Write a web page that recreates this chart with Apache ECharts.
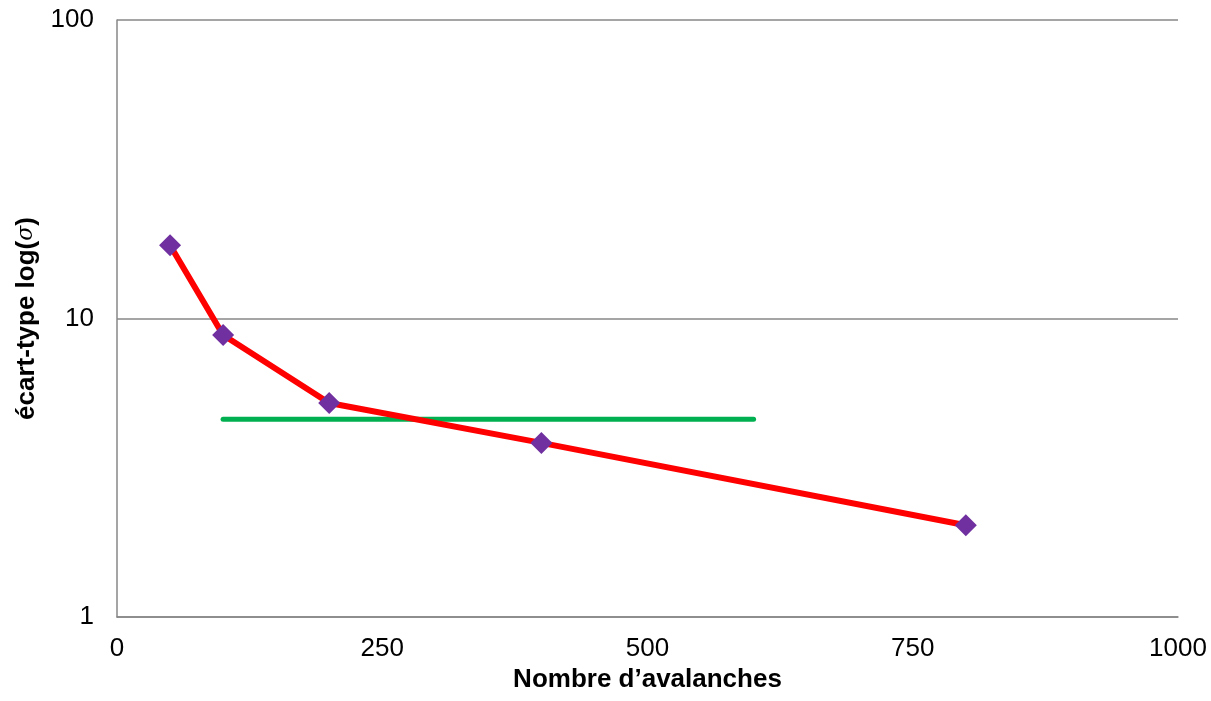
<!DOCTYPE html>
<html><head><meta charset="utf-8">
<script src="https://cdn.jsdelivr.net/npm/echarts@6/dist/echarts.min.js"></script>
<style>html,body{margin:0;padding:0;background:#fff}#c{width:1211px;height:701px}</style>
</head><body><div id="c"></div>
<script>
const avalanches = [50, 100, 200, 400, 800];
const sigma = [17.6, 8.8, 5.21, 3.83, 2.03];
const refX = [100, 600];
const refY = [4.6, 4.6];
const xTitle = "Nombre d’avalanches";
const yTitleMain = "écart-type log(";
const yTitleSym = "σ";
const yTitleEnd = ")";

const chart = echarts.init(document.getElementById('c'));
const gray = '#878787';
chart.setOption({
  animation: false,
  grid: {left: 117, right: 33, top: 20, bottom: 84, containLabel: false},
  xAxis: {
    type: 'value', min: 0, max: 1000, interval: 250,
    name: xTitle, nameLocation: 'middle', nameGap: 42,
    nameTextStyle: {fontFamily: 'Liberation Sans', fontSize: 26, fontWeight: 'bold', color: '#000'},
    axisLine: {show: true, lineStyle: {color: gray, width: 1.5}},
    axisTick: {show: false},
    splitLine: {show: false},
    axisLabel: {fontFamily: 'Liberation Sans', fontSize: 26, color: '#000', margin: 19,
      formatter: v => String(v)}
  },
  yAxis: {
    type: 'log', logBase: 10, min: 1, max: 100,
    name: '{b|' + yTitleMain + '}{s|' + yTitleSym + '}{b|' + yTitleEnd + '}',
    nameLocation: 'middle', nameGap: 70, nameRotate: 90,
    nameTextStyle: {
      fontFamily: 'Liberation Sans', fontSize: 26, fontWeight: 'bold', color: '#000',
      rich: {
        b: {fontFamily: 'Liberation Sans', fontSize: 26, fontWeight: 'bold', color: '#000'},
        s: {fontFamily: 'DejaVu Serif', fontSize: 22, fontStyle: 'italic', fontWeight: 'normal', color: '#000'}
      }
    },
    axisLine: {show: true, lineStyle: {color: gray, width: 1.5}},
    axisTick: {show: false},
    splitLine: {show: true, lineStyle: {color: gray, width: 1.5}},
    axisLabel: {fontFamily: 'Liberation Sans', fontSize: 26, color: '#000', margin: 23}
  },
  series: [
    {
      type: 'line',
      data: refX.map((x, i) => [x, refY[i]]),
      showSymbol: false, symbol: 'none',
      lineStyle: {color: '#00B050', width: 5, cap: 'round'},
      z: 2
    },
    {
      type: 'line',
      data: avalanches.map((x, i) => [x, sigma[i]]),
      symbol: 'diamond', symbolSize: 22,
      itemStyle: {color: '#7030A0'},
      lineStyle: {color: '#FF0000', width: 6},
      z: 3
    }
  ]
});
</script></body></html>
